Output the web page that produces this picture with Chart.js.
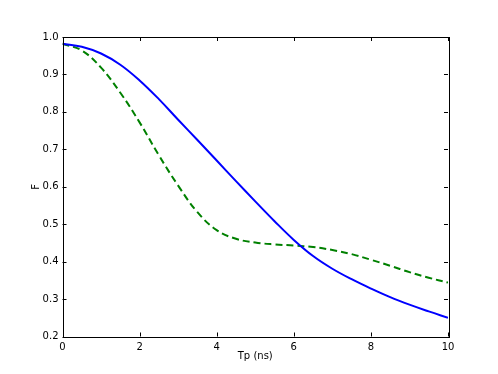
<!DOCTYPE html>
<html>
<head>
<meta charset="utf-8">
<script src="https://cdn.jsdelivr.net/npm/chart.js@4/dist/chart.umd.min.js"></script>
<style>
html,body{margin:0;padding:0;background:#fff;}
#wrap{width:498px;height:374px;}
</style>
</head>
<body>
<div id="wrap"><canvas id="c" width="498" height="374"></canvas></div>
<script>
const tp = [0,0.5,1,1.5,2,2.5,3,3.5,4,4.5,5,5.5,6,6.5,7,7.5,8,8.5,9,9.5,10];
const fSolid = [0.982,0.974,0.956,0.926,0.884,0.834,0.779,0.725,0.670,0.615,0.561,0.508,0.458,0.415,0.381,0.353,0.328,0.305,0.285,0.267,0.250];
const fDashed = [0.982,0.964,0.918,0.851,0.772,0.684,0.603,0.532,0.484,0.461,0.451,0.446,0.443,0.439,0.431,0.420,0.405,0.389,0.372,0.357,0.344];
const xTicks = [0,2,4,6,8,10];
const yTicks = [0.2,0.3,0.4,0.5,0.6,0.7,0.8,0.9,1.0];

const toPts = arr => tp.map((t,i)=>({x:t,y:arr[i]}));
const FONT = 'DejaVu Sans';

const framePlugin = {
  id:'frame',
  afterDraw(chart){
    const {ctx, chartArea:a, scales:{x,y}} = chart;
    ctx.save();
    ctx.strokeStyle='#000';
    ctx.lineWidth=1;
    ctx.beginPath();
    xTicks.forEach(v=>{
      const px=Math.round(x.getPixelForValue(v))+0.5;
      ctx.moveTo(px,a.bottom); ctx.lineTo(px,a.bottom-4);
      ctx.moveTo(px,a.top); ctx.lineTo(px,a.top+4);
    });
    yTicks.forEach(v=>{
      const py=Math.round(y.getPixelForValue(v))+0.5;
      ctx.moveTo(a.left,py); ctx.lineTo(a.left+4,py);
      ctx.moveTo(a.right,py); ctx.lineTo(a.right-4,py);
    });
    ctx.stroke();
    ctx.strokeRect(Math.round(a.left)+0.5, Math.round(a.top)+0.5, Math.round(a.right-a.left), Math.round(a.bottom-a.top));
    ctx.restore();
  }
};

new Chart(document.getElementById('c'), {
  type:'line',
  data:{
    datasets:[
      {data:toPts(fSolid), borderColor:'#0000ff', borderWidth:2, pointRadius:0, tension:0.4, fill:false},
      {data:toPts(fDashed), borderColor:'#008000', borderWidth:2, borderDash:[7,4], pointRadius:0, tension:0.4, fill:false}
    ]
  },
  options:{
    responsive:false,
    animation:false,
    devicePixelRatio:1,
    layout:{padding:{top:37,right:50,left:0,bottom:0}},
    plugins:{legend:{display:false},tooltip:{enabled:false}},
    scales:{
      x:{
        type:'linear', min:0, max:10,
        afterFit(s){s.height=37.5;},
        afterBuildTicks(s){s.ticks = xTicks.map(v=>({value:v}));},
        grid:{display:false, drawTicks:false},
        border:{display:false},
        ticks:{color:'#000', font:{family:FONT,size:10}, padding:5, maxRotation:0, callback:v=>String(v)},
        title:{display:true, text:'Tp (ns)', color:'#000', font:{family:FONT,size:10}, padding:{top:0,bottom:12}}
      },
      y:{
        type:'linear', min:0.2, max:1.0,
        afterFit(s){s.width=62.5;},
        afterBuildTicks(s){s.ticks = yTicks.map(v=>({value:v}));},
        grid:{display:false, drawTicks:false},
        border:{display:false},
        ticks:{color:'#000', font:{family:FONT,size:10}, padding:4, callback:v=>Number(v).toFixed(1)},
        title:{display:true, text:'F', color:'#000', font:{family:FONT,size:10}, padding:{top:30,bottom:0}}
      }
    }
  },
  plugins:[framePlugin]
});
</script>
</body>
</html>
